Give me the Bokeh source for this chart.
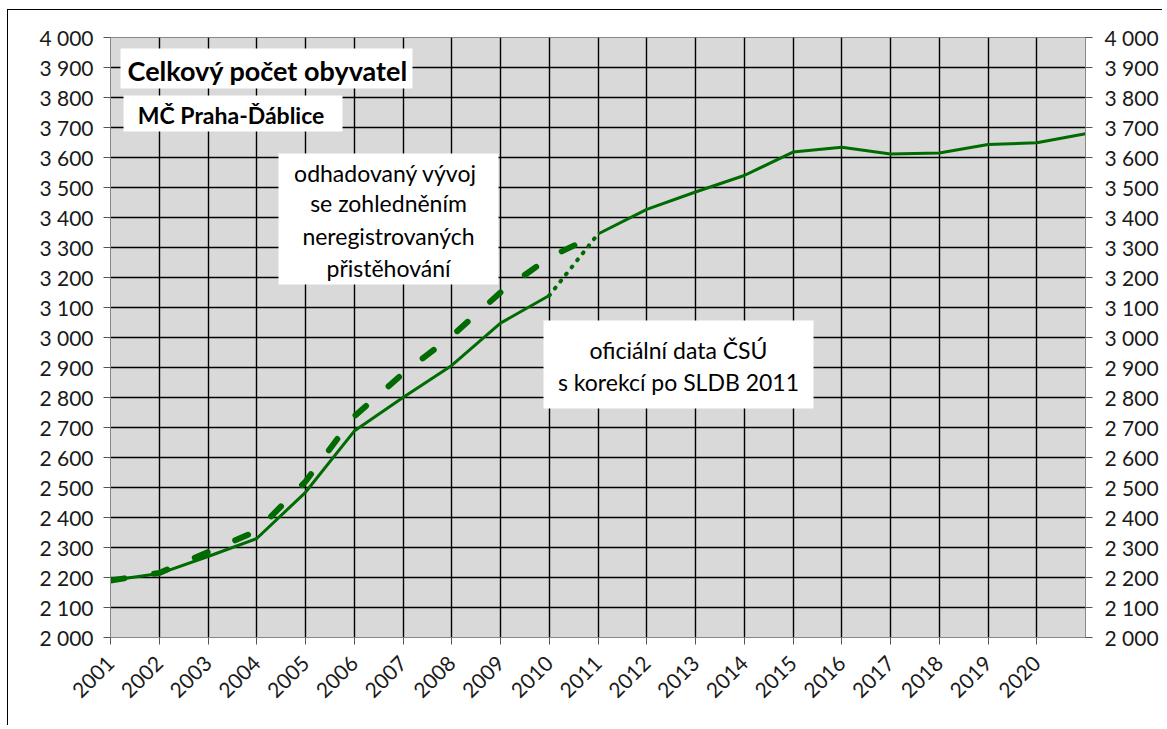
import math
from bokeh.plotting import figure
from bokeh.models import (LinearAxis, FixedTicker, BoxAnnotation, Label, Range1d)
from bokeh.embed import file_html
from bokeh.resources import INLINE

# ---- data ----
years = list(range(2001, 2022))
official = [2190, 2213, 2270, 2330, 2484, 2688, 2800, 2907, 3048, 3140,
            3345, 3427, 3485, 3540, 3618, 3634, 3612, 3615, 3643, 3649, 3679]
est_years = list(range(2001, 2012))
estimated = [2190, 2215, 2285, 2355, 2520, 2737, 2880, 3005, 3150, 3267, 3345]

x_ticks = list(range(2001, 2021))
x_tick_labels = [str(y) for y in x_ticks]
y_ticks = list(range(2000, 4001, 100))
y_tick_labels = ["2 000", "2 100", "2 200", "2 300", "2 400", "2 500", "2 600",
                 "2 700", "2 800", "2 900", "3 000", "3 100", "3 200", "3 300",
                 "3 400", "3 500", "3 600", "3 700", "3 800", "3 900", "4 000"]

title_text = "Celkový počet obyvatel"
subtitle_text = "MČ Praha-Ďáblice"
est_note = ["odhadovaný  vývoj", "se zohledněním", "neregistrovaných", "přistěhování"]
off_note = ["oficiální data ČSÚ", "s korekcí po SLDB 2011"]

FONT = "Lato"
GREEN = "#006b00"

p = figure(width=1155, height=716, output_backend="svg", toolbar_location=None,
           x_range=Range1d(2001, 2021), y_range=Range1d(2000, 4000),
           min_border_left=102, min_border_top=27, min_border_right=78, min_border_bottom=89)
p.styles = {"border-top": "1px solid #000", "border-left": "1px solid #000",
            "margin-left": "7px", "margin-top": "9px"}
p.background_fill_color = "#d9d9d9"
p.border_fill_color = "white"
p.outline_line_color = "#888888"

# grid
p.xgrid.ticker = FixedTicker(ticks=x_ticks)
p.ygrid.ticker = FixedTicker(ticks=y_ticks)
for g in (p.xgrid, p.ygrid):
    g.grid_line_color = "#000000"
    g.grid_line_width = 1.4

def style_axis(ax):
    ax.axis_line_color = "#888888"
    ax.major_tick_line_color = "#555555"
    ax.major_tick_out = 7
    ax.major_tick_in = 0
    ax.minor_tick_line_color = None
    ax.major_label_text_font = FONT
    ax.major_label_text_font_size = "21px"
    ax.major_label_text_color = "#1a1a1a"

# x axis
xa = p.xaxis[0]
xa.ticker = FixedTicker(ticks=x_ticks)
xa.major_label_overrides = {t: l for t, l in zip(x_ticks, x_tick_labels)}
xa.major_label_orientation = math.pi / 4
style_axis(xa)
xa.major_label_standoff = 15

# y axes
ya = p.yaxis[0]
ya.ticker = FixedTicker(ticks=y_ticks)
ya.major_label_overrides = {t: l for t, l in zip(y_ticks, y_tick_labels)}
style_axis(ya)
ya.major_label_standoff = 10

ra = LinearAxis(ticker=FixedTicker(ticks=y_ticks))
ra.major_label_overrides = {t: l for t, l in zip(y_ticks, y_tick_labels)}
style_axis(ra)
ra.major_label_standoff = 12
p.add_layout(ra, "right")

# lines
p.line(est_years, estimated, line_color=GREEN, line_width=6, line_dash="14 30",
       line_cap="round")
p.line(years[:10], official[:10], line_color=GREEN, line_width=3, line_join="round")
p.line(years[9:11], official[9:11], line_color=GREEN, line_width=4, line_dash="1 8",
       line_cap="round")
p.line(years[10:], official[10:], line_color=GREEN, line_width=3, line_join="round")

# annotation boxes
def box(l, r, t, b):
    p.add_layout(BoxAnnotation(left=l, right=r, top=t, bottom=b, fill_color="white",
                               fill_alpha=1.0, line_alpha=0, level="overlay"))

def lab(x, y, text, size, bold=False, align="left"):
    p.add_layout(Label(x=x, y=y, text=text, text_font=FONT, text_font_size=size,
                       text_font_style="bold" if bold else "normal",
                       text_align=align, text_baseline="middle",
                       text_color="#000000", level="overlay"))

box(2001.205, 2007.195, 3963, 3830)
lab(2001.35, 3890, title_text, "27px", bold=True)

box(2001.267, 2005.759, 3807, 3687)
lab(2001.56, 3743, subtitle_text, "23px", bold=True)

box(2004.446, 2008.959, 3613, 3177)
for yy, t in zip([3550, 3447, 3337, 3233], est_note):
    lab(2006.703, yy, t, "23px", align="center")

box(2009.882, 2015.421, 3057, 2763)
for yy, t in zip([2960, 2853], off_note):
    lab(2012.651, yy, t, "23px", align="center")

open("out.html", "w").write(file_html(p, INLINE))
